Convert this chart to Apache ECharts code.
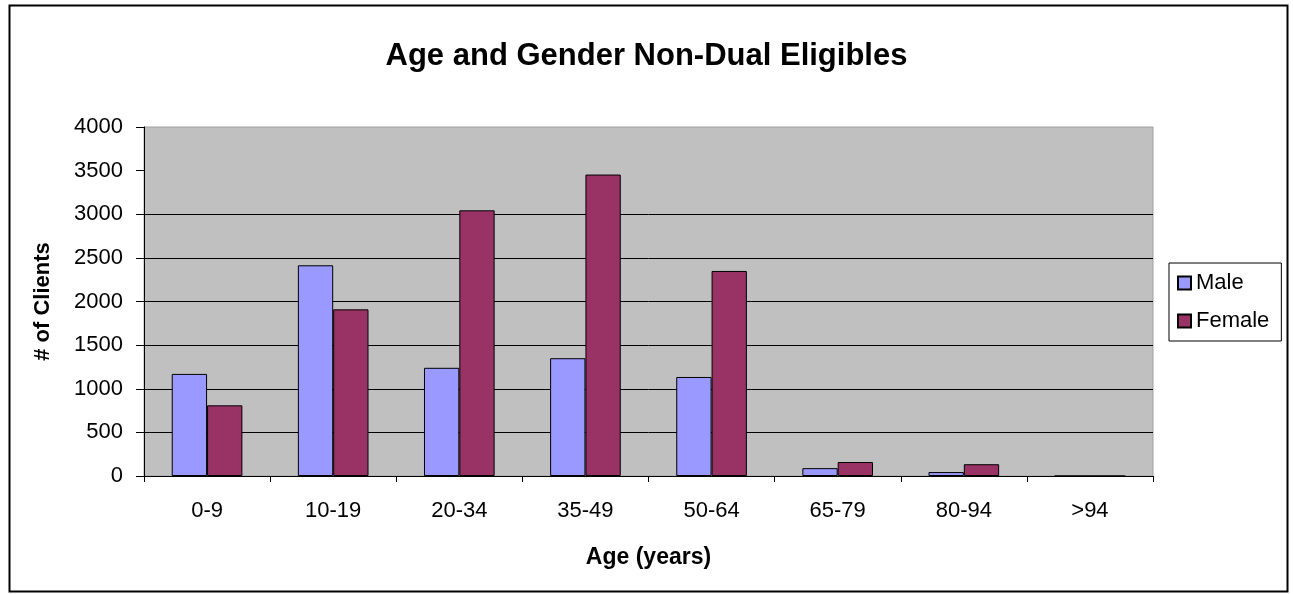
<!DOCTYPE html>
<html>
<head>
<meta charset="utf-8">
<script src="https://cdn.jsdelivr.net/npm/echarts@6/dist/echarts.min.js"></script>
<style>
html,body{margin:0;padding:0;background:#fff;}
#chart{width:1293px;height:594px;}
</style>
</head>
<body>
<div id="chart"></div>
<script>
const categories = ['0-9','10-19','20-34','35-49','50-64','65-79','80-94','>94'];
const maleValues = [1170, 2415, 1240, 1350, 1135, 90, 45, 0];
const femaleValues = [810, 1910, 3045, 3455, 2350, 160, 135, 0];
const yTicks = [0, 500, 1000, 1500, 2000, 2500, 3000, 3500, 4000];
const gridLineValues = [500, 1000, 1500, 2000, 2500, 3000];

const chart = echarts.init(document.getElementById('chart'));
const font = 'Liberation Sans, Arial, sans-serif';
chart.setOption({
  animation: false,
  backgroundColor: '#ffffff',
  title: {
    text: 'Age and Gender Non-Dual Eligibles',
    left: 'center',
    top: 36,
    textStyle: {fontFamily: font, fontSize: 31, fontWeight: 'bold', color: '#000'}
  },
  graphic: [{
    type: 'rect',
    shape: {x: 9.5, y: 5.5, width: 1278, height: 586},
    style: {fill: 'none', stroke: '#000', lineWidth: 2},
    silent: true
  }],
  legend: {
    data: ['Male', 'Female'],
    orient: 'vertical',
    left: 1169,
    top: 263,
    padding: [9, 12, 9, 8],
    itemGap: 16,
    itemWidth: 13,
    itemHeight: 13,
    borderColor: '#000',
    borderWidth: 1,
    icon: 'rect',
    textStyle: {fontFamily: font, fontSize: 22, color: '#000'}
  },
  grid: {
    left: 144, right: 140, top: 127, bottom: 118,
    show: true,
    backgroundColor: '#c0c0c0',
    borderColor: '#a0a0a0',
    borderWidth: 1,
    containLabel: false
  },
  xAxis: {
    type: 'category',
    data: categories,
    name: 'Age (years)',
    nameLocation: 'middle',
    nameGap: 70,
    nameTextStyle: {fontFamily: font, fontSize: 23, fontWeight: 'bold', color: '#000'},
    axisLine: {lineStyle: {color: '#000', width: 1}},
    axisTick: {show: true, length: 6, lineStyle: {color: '#000'}},
    axisLabel: {fontFamily: font, fontSize: 22, color: '#000', margin: 24}
  },
  yAxis: {
    type: 'value',
    min: 0, max: 4000, interval: 500,
    name: '# of Clients',
    nameLocation: 'middle',
    nameGap: 90,
    nameTextStyle: {fontFamily: font, fontSize: 22, fontWeight: 'bold', color: '#000'},
    axisLine: {show: true, lineStyle: {color: '#000', width: 1}},
    axisTick: {show: true, length: 8, lineStyle: {color: '#000'}},
    axisLabel: {fontFamily: font, fontSize: 22, color: '#000', margin: 21,
      formatter: v => yTicks.includes(v) ? String(v) : ''},
    splitLine: {show: false}
  },
  series: [
    {
      name: 'Male', type: 'bar', data: maleValues,
      barGap: '0%', barCategoryGap: '44%',
      itemStyle: {color: '#9999ff', borderColor: '#000', borderWidth: 1},
      markLine: {
        silent: true,
        z: 1,
        symbol: ['none', 'none'],
        label: {show: false},
        lineStyle: {color: '#000', width: 1, type: 'solid'},
        data: gridLineValues.map(v => ({yAxis: v}))
      }
    },
    {
      name: 'Female', type: 'bar', data: femaleValues,
      barGap: '0%', barCategoryGap: '44%',
      itemStyle: {color: '#993366', borderColor: '#000', borderWidth: 1}
    }
  ]
});
</script>
</body>
</html>
